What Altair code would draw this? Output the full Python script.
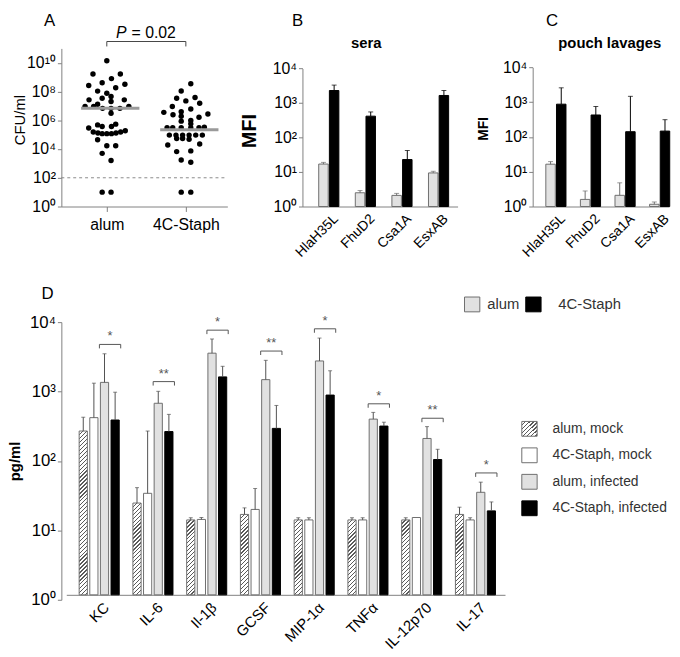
import json
import math
import altair as alt
import pandas as pd

FONT = "Liberation Sans"
GRAY_FILL = "#e1e1e1"
EDGE = "#6e6e6e"
AXIS_GRAY = "#808080"
ANNOT = "#555555"
TXT = "#333333"

# ---------------- data ----------------
vaccines = ["alum", "4C-Staph"]
# panel A: log10 CFU/ml of each mouse and horizontal scatter of its dot (px)
alum_cfu_log10 = [10.14, 9.22, 9.22, 8.90, 8.61, 8.51, 8.42, 8.26, 8.03, 7.88, 7.65, 7.53, 7.42, 7.42,
                  7.31, 7.12, 6.97, 6.97, 6.97, 6.83, 6.83, 6.83, 6.49, 5.73, 5.68, 5.57, 5.57, 5.46,
                  5.27, 5.18, 5.18, 5.11, 5.11, 5.07, 5.07, 5.07, 4.64, 4.23, 4.23, 3.70, 3.20, 1.0, 1.0]
alum_spread = [0, -14, 13.7, 4.7, -4.7, 18.3, -18.3, 9, -9.3, 0, 4.3, -4.7, -18, 17.7, 4.3, -9.3,
               -22, -13.3, 22.3, -4.3, 4.3, 13.3, 4.3, 9, -9.3, -4.7, 4.7, -18.3, 18.7, -13.7, 14,
               -9, 9.3, -4.7, 0, 4.7, -9.3, 0, 9, -4.7, 4.3, -4.7, 4.3]
staph_cfu_log10 = [8.54, 8.04, 7.58, 7.53, 7.35, 7.19, 6.96, 6.78, 6.60, 6.55, 6.44, 6.39, 6.28, 6.21,
                   5.98, 5.94, 5.75, 5.52, 5.48, 5.48, 5.48, 5.48, 5.48, 4.97, 4.97, 4.97, 4.97, 4.97,
                   4.97, 4.73, 4.73, 4.68, 4.35, 4.28, 3.87, 3.82, 3.24, 3.08, 1.0, 1.0]
staph_spread = [5, -4.7, 9.3, -9.3, 0, 14, -13.7, 5, -4.7, -22.3, 22.3, -13, -4.7, 13.3, 5, -4.7, 5,
                18.7, -19, -13.3, -4.7, 5, 13.3, -16.7, -10, -3.3, 3.3, 10, 16.7, -9.3, -3.3, 3.3,
                14, -18.3, 5, -9.3, -4.7, 5, -4.7, 5]
median_cfu_log10 = [6.83, 5.34]
detection_limit = 100
p_value = "= 0.02"

# panels B, C
antigens = ["HlaH35L", "FhuD2", "Csa1A", "EsxAB"]
sera_alum = [17, 2.5, 2.1, 9.4]
sera_alum_upper = [19, 2.9, 2.4, 10.5]
sera_staph = [2300, 415, 23, 1650]
sera_staph_upper = [3300, 550, 42, 2300]
pouch_alum = [16.5, 1.6, 2.1, 1.16]
pouch_alum_upper = [19.6, 2.8, 4.8, 1.35]
pouch_staph = [880, 430, 142, 148]
pouch_staph_upper = [2600, 755, 1480, 315]

# panel D
cytokines = ["KC", "IL-6", "Il-1\u03b2", "GCSF", "MIP-1\u03b1", "TNF\u03b1", "IL-12p70", "IL-17"]
groups_D = ["alum, mock", "4C-Staph, mock", "alum, infected", "4C-Staph, infected"]
alum_mock = [229, 21, 12, 14.4, 12, 12, 12, 14.4]
alum_mock_upper = [362, 35, 12.9, 17.9, 12.9, 12.9, 12.9, 18.3]
staph_mock = [357, 29, 12.2, 17, 12, 12, 13, 12]
staph_mock_upper = [1120, 229, 13, 34, 12.9, 12.9, 13, 12.9]
alum_inf = [1150, 575, 3030, 1260, 2340, 340, 179, 30]
alum_inf_upper = [2970, 855, 4850, 2390, 5000, 425, 265, 42]
staph_inf = [330, 225, 1380, 250, 755, 270, 89, 16.2]
staph_inf_upper = [830, 398, 1960, 535, 1690, 307, 125, 21.8]
sig_marks = ["*", "**", "*", "**", "*", "*", "**", "*"]
sig_level = [4050, 1180, 6500, 3250, 6800, 565, 350, 57]

# ---------------- helpers ----------------
SUP = ["\u2070", "\u00b9", "\u00b2", "\u00b3", "\u2074", "\u2075", "\u2076", "\u2077", "\u2078",
       "\u2079", "\u00b9\u2070", "\u00b9\u00b9"]
LOG_LABEL = "'10' + " + json.dumps(SUP, ensure_ascii=False) + "[round(log(datum.value) / LN10)]"

ROW1_H = 160          # common plot-area height of the top row
LETTER_TOP = -36      # panel letters, relative to the row-1 plot origin


def y_log_axis(values, title, tx, ty, tsize, tweight, lsize, position=0):
    return alt.Axis(values=values, labelExpr=LOG_LABEL, title=title, titleX=tx, titleY=ty,
                    titleAngle=270, titleBaseline="bottom", titleAlign="center",
                    titleFontSize=tsize, titleFontWeight=tweight, titleColor="black",
                    labelFontSize=lsize, labelColor="black", tickSize=4, labelPadding=2,
                    grid=False, domainColor=AXIS_GRAY, tickColor=AXIS_GRAY, position=position)


def cat_axis(names, lsize):
    return alt.Axis(values=list(range(len(names))),
                    labelExpr=json.dumps(names, ensure_ascii=False) + "[datum.value]",
                    labelAngle=-45, labelAlign="right", labelBaseline="top", ticks=False,
                    labelOverlap=False, labelPadding=5, labelOffset=2, labelFontSize=lsize,
                    labelColor="black", title=None, grid=False, domainColor=AXIS_GRAY)


def hatch(w, h, period=4.0, t=1.3, c1="white", c2="#5a5a5a"):
    L = w + h
    k = L * w * h / (w * w + h * h)
    stops = [{"offset": 0, "color": c1}]
    n = 1
    while n * period - t / 2 < L:
        a = max(0.0, (n * period - t / 2) / L)
        b = min(1.0, (n * period + t / 2) / L)
        stops += [{"offset": a, "color": c1}, {"offset": a, "color": c2},
                  {"offset": b, "color": c2}, {"offset": b, "color": c1}]
        n += 1
    stops.append({"offset": 1, "color": c1})
    return {"gradient": "linear", "x1": 0, "y1": 0, "x2": k / h, "y2": k / w, "stops": stops}


def label_text(txt, x, y, size=17, align="center", baseline="top", weight="normal",
               style="normal", color="black", dx=0):
    return alt.Chart(pd.DataFrame({"t": [txt]})).mark_text(
        fontSize=size, align=align, baseline=baseline, fontWeight=weight, fontStyle=style,
        color=color, dx=dx).encode(text="t:N", x=alt.value(x), y=alt.value(y))


# ---------------- panel A ----------------
A_W = 168
A_DOM = [0.425, 2.525]
a_ppu = A_W / (A_DOM[1] - A_DOM[0])
rowsA = []
for gi, (logs, spread) in enumerate([(alum_cfu_log10, alum_spread), (staph_cfu_log10, staph_spread)]):
    for lv, s in zip(logs, spread):
        rowsA.append({"pos": gi + 1 + s / a_ppu, "cfu": 10 ** lv})
dfA = pd.DataFrame(rowsA)

xA_scale = alt.Scale(domain=A_DOM, nice=False, zero=False)
yA_scale = alt.Scale(type="log", domain=[1, 1e11], nice=False)
xA_axis = alt.Axis(values=[1, 2], labelExpr=json.dumps(vaccines) + "[datum.value - 1]",
                   labelAngle=0, tickSize=5, labelPadding=5, labelFontSize=16, labelColor="black",
                   title=None, grid=False, domainColor=AXIS_GRAY, tickColor=AXIS_GRAY)
yA_axis = y_log_axis([10 ** k for k in range(0, 11, 2)], "CFU/ml", -34, 72, 15, "normal", 16)


def XA(f):
    return alt.X(f, scale=xA_scale, axis=xA_axis)


def YA(f):
    return alt.Y(f, scale=yA_scale, axis=yA_axis)


pointsA = alt.Chart(dfA).mark_circle(size=30, color="black", opacity=1).encode(
    x=XA("pos:Q"), y=YA("cfu:Q"))
med = pd.DataFrame({"x0": [1 - 26 / a_ppu, 2 - 26 / a_ppu], "x1": [1 + 33 / a_ppu, 2 + 33 / a_ppu],
                    "cfu": [10 ** v for v in median_cfu_log10]})
medA = alt.Chart(med).mark_rule(color="#9a9a9a", strokeWidth=3).encode(
    x=XA("x0:Q"), x2="x1:Q", y=YA("cfu:Q"))
dl = pd.DataFrame({"x0": [A_DOM[0]], "x1": [A_DOM[1]], "cfu": [detection_limit]})
dashA = alt.Chart(dl).mark_rule(color="#8a8a8a", strokeDash=[3, 3], strokeWidth=1).encode(
    x=XA("x0:Q"), x2="x1:Q", y=YA("cfu:Q"))
brA_h = alt.Chart(pd.DataFrame({"x0": [1], "x1": [2]})).mark_rule(color="#444", strokeWidth=1).encode(
    x=XA("x0:Q"), x2="x1:Q", y=alt.value(-7))
brA_v = alt.Chart(pd.DataFrame({"x0": [1, 2]})).mark_rule(color="#444", strokeWidth=1).encode(
    x=XA("x0:Q"), y=alt.value(-7), y2=alt.value(-2))
pmid = pd.DataFrame({"xm": [1.5], "t1": ["P"], "t2": [p_value]})
pA1 = alt.Chart(pmid).mark_text(fontSize=16, fontStyle="italic", align="right", baseline="middle",
                                dx=-20, color="black").encode(x=XA("xm:Q"), y=alt.value(-16), text="t1:N")
pA2 = alt.Chart(pmid).mark_text(fontSize=16, align="left", baseline="middle", dx=-15,
                                color="black").encode(x=XA("xm:Q"), y=alt.value(-16), text="t2:N")
letterA = label_text("A", -12, LETTER_TOP)
A = alt.layer(pointsA, medA, dashA, brA_h, brA_v, pA1, pA2, letterA).properties(width=A_W, height=ROW1_H)


# ---------------- panels B, C ----------------
def mfi_panel(letter, letter_x, title, title_x, W, top_px, dom, off_px, hw_px,
              alum_v, alum_u, staph_v, staph_u, ytsize, ytx, yty, pad_left=None):
    ppu = W / (dom[1] - dom[0])
    off = off_px / ppu
    hw = hw_px / ppu
    rows = []
    for gi, (vals, ups, fill, edge) in enumerate([(alum_v, alum_u, GRAY_FILL, EDGE),
                                                   (staph_v, staph_u, "black", "black")]):
        for ci, ag in enumerate(antigens):
            xc = ci + (gi - 0.5) * 2 * off
            rows.append({"antigen": ag, "vaccine": vaccines[gi], "xc": xc, "x0": xc - hw,
                         "x1": xc + hw, "v": vals[ci], "u": ups[ci], "fill": fill, "edge": edge})
    df = pd.DataFrame(rows)
    xs = alt.Scale(domain=dom, nice=False, zero=False)
    ys = alt.Scale(type="log", domain=[1, 1e4], nice=False, range=[ROW1_H, top_px])
    xa = cat_axis(antigens, 14)
    ya = y_log_axis([1, 10, 100, 1000, 10000], "MFI", ytx, yty, ytsize, "bold", 16)
    bars = alt.Chart(df).mark_rect(strokeWidth=1).encode(
        x=alt.X("x0:Q", scale=xs, axis=xa), x2="x1:Q",
        y=alt.Y("v:Q", scale=ys, axis=ya), y2=alt.datum(1),
        fill=alt.Fill("fill:N", scale=None), stroke=alt.Stroke("edge:N", scale=None))
    whisk = alt.Chart(df).mark_rule(strokeWidth=1).encode(
        x=alt.X("xc:Q", scale=xs, axis=xa), y=alt.Y("v:Q", scale=ys, axis=ya), y2="u:Q",
        color=alt.Color("edge:N", scale=None))
    caps = alt.Chart(df).mark_tick(orient="horizontal", size=5, thickness=1).encode(
        x=alt.X("xc:Q", scale=xs, axis=xa), y=alt.Y("u:Q", scale=ys, axis=ya),
        color=alt.Color("edge:N", scale=None))
    ttl = label_text(title, title_x, -5.7, size=15, baseline="middle", weight="bold")
    let = label_text(letter, letter_x, LETTER_TOP)
    layers = [bars, whisk, caps, ttl, let]
    if pad_left is not None:
        # white spacer that widens the gap to the previous panel
        layers.append(alt.Chart(pd.DataFrame({"k": [0]})).mark_rule(color="white", strokeWidth=1).encode(
            x=alt.value(pad_left), x2=alt.value(pad_left + 1), y=alt.value(0)))
    return alt.layer(*layers).properties(width=W, height=ROW1_H)


B = mfi_panel("B", -5, "sera", 64.5, 157, 20.3, [-0.72, 3.52], 5.4, 4.8,
              sera_alum, sera_alum_upper, sera_staph, sera_staph_upper, 20, -44, 83)
C_W = 138
C_STEP = 35.0
C_MIN = -23.5 / C_STEP
C = mfi_panel("C", 19.7, "pouch lavages", 78, C_W, 19.3, [C_MIN, C_MIN + C_W / C_STEP], 5.4, 4.8,
              pouch_alum, pouch_alum_upper, pouch_staph, pouch_staph_upper, 14, -43, 81, pad_left=-64)

# ---------------- panel D ----------------
D_SHIFT = 5
D_W, D_H = 444, 281
D_DOM = [-0.612, 7.55]
d_ppu = D_W / (D_DOM[1] - D_DOM[0])
SUB = 10.75 / d_ppu
BW_PX = 8.3
BW = BW_PX / d_ppu
px_dec = D_H / 4.0
series_D = [(alum_mock, alum_mock_upper), (staph_mock, staph_mock_upper),
            (alum_inf, alum_inf_upper), (staph_inf, staph_inf_upper)]
styles_D = [("hatch", EDGE), ("white", EDGE), (GRAY_FILL, EDGE), ("black", "black")]
rowsD = []
for si, (vals, ups) in enumerate(series_D):
    kind, edge = styles_D[si]
    for ci, cyt in enumerate(cytokines):
        xc = ci + (si - 1.5) * SUB
        v = vals[ci]
        fill = hatch(BW_PX, px_dec * math.log10(v)) if kind == "hatch" else kind
        rowsD.append({"cyt": cyt, "grp": groups_D[si], "xc": xc, "x0": xc - BW / 2, "x1": xc + BW / 2,
                      "v": v, "u": ups[ci], "fill": fill, "edge": edge})
whiskD_rows = [{k: r[k] for k in ("xc", "v", "u")} for r in rowsD if r["u"] > r["v"] * 1.01]

xD_scale = alt.Scale(domain=D_DOM, nice=False, zero=False, range=[D_SHIFT, D_SHIFT + D_W])
yD_scale = alt.Scale(type="log", domain=[1, 1e4], nice=False)
xD_axis = cat_axis(cytokines, 15)
yD_axis = y_log_axis([1, 10, 100, 1000, 10000], "pg/ml", -39, D_H / 2, 15, "bold", 17, position=D_SHIFT)


def XD(f):
    return alt.X(f, scale=xD_scale, axis=xD_axis)


def YD(f):
    return alt.Y(f, scale=yD_scale, axis=yD_axis)


barsD = alt.Chart(alt.Data(values=rowsD)).mark_rect(strokeWidth=1).encode(
    x=XD("x0:Q"), x2="x1:Q", y=YD("v:Q"), y2=alt.datum(1),
    fill=alt.Fill("fill:N", scale=None), stroke=alt.Stroke("edge:N", scale=None))
whiskD = alt.Chart(alt.Data(values=whiskD_rows)).mark_rule(color="#505050", strokeWidth=1).encode(
    x=XD("xc:Q"), y=YD("v:Q"), y2="u:Q")
capsD = alt.Chart(alt.Data(values=whiskD_rows)).mark_tick(
    orient="horizontal", size=4, thickness=1, color="#505050").encode(x=XD("xc:Q"), y=YD("u:Q"))

sig_rows = []
for ci in range(len(cytokines)):
    left = ci + 0.5 * SUB - BW / 2 - 1 / d_ppu
    right = ci + 1.5 * SUB + BW / 2 + 1.5 / d_ppu
    y = sig_level[ci]
    sig_rows.append({"l": left, "r": right, "m": (left + right) / 2, "y": y,
                     "y2": y / 10 ** (4 / px_dec), "s": sig_marks[ci]})
dfS = pd.DataFrame(sig_rows)
sig_h = alt.Chart(dfS).mark_rule(color=ANNOT, strokeWidth=1).encode(x=XD("l:Q"), x2="r:Q", y=YD("y:Q"))
sig_vl = alt.Chart(dfS).mark_rule(color=ANNOT, strokeWidth=1).encode(x=XD("l:Q"), y=YD("y:Q"), y2="y2:Q")
sig_vr = alt.Chart(dfS).mark_rule(color=ANNOT, strokeWidth=1).encode(x=XD("r:Q"), y=YD("y:Q"), y2="y2:Q")
sig_t = alt.Chart(dfS).mark_text(fontSize=13, color=ANNOT, baseline="middle", dy=-8).encode(
    x=XD("m:Q"), y=YD("y:Q"), text="s:N")

# legends drawn inside panel D (positions relative to the panel-D plot origin)
legend_layers = []
swatch_fill = [hatch(15, 15), "white", GRAY_FILL, "black"]
swatch_edge = [EDGE, EDGE, EDGE, "black"]
for i, name in enumerate(groups_D):
    yc = 113 + 26.8 * i
    sq = alt.Chart(pd.DataFrame({"g": [name]})).mark_rect(
        fill=swatch_fill[i], stroke=swatch_edge[i], strokeWidth=1).encode(
        x=alt.value(466), x2=alt.value(481.5), y=alt.value(yc - 7.5), y2=alt.value(yc + 7.5))
    legend_layers += [sq, label_text(name, 497, yc, size=14, align="left", baseline="middle", color=TXT)]
top_leg_x = [408, 470]
top_leg_text_x = [431, 503]
for i, name in enumerate(vaccines):
    sq = alt.Chart(pd.DataFrame({"g": [name]})).mark_rect(
        fill=[GRAY_FILL, "black"][i], stroke=[EDGE, "black"][i], strokeWidth=1).encode(
        x=alt.value(top_leg_x[i]), x2=alt.value(top_leg_x[i] + 15.5),
        y=alt.value(-20.4), y2=alt.value(-5.4))
    legend_layers += [sq, label_text(name, top_leg_text_x[i], -12.9, size=15, align="left",
                                     baseline="middle", color=TXT)]
letterD = label_text("D", -14, -31.4)

D = alt.layer(barsD, whiskD, capsD, sig_h, sig_vl, sig_vr, sig_t, *legend_layers, letterD).properties(
    width=D_W + D_SHIFT, height=D_H)

top = alt.hconcat(A, B, C, spacing=11)
chart = alt.vconcat(top, D, spacing=25, padding={"left": 0, "top": 0, "right": 0, "bottom": 0})
chart = chart.configure(font=FONT, padding={"left": 0, "top": 0, "right": 0, "bottom": 0})
chart = chart.configure_view(stroke=None).configure_axis(labelFont=FONT, titleFont=FONT).configure_text(font=FONT)

chart.save("out.html", embed_options={"renderer": "svg", "actions": False})
